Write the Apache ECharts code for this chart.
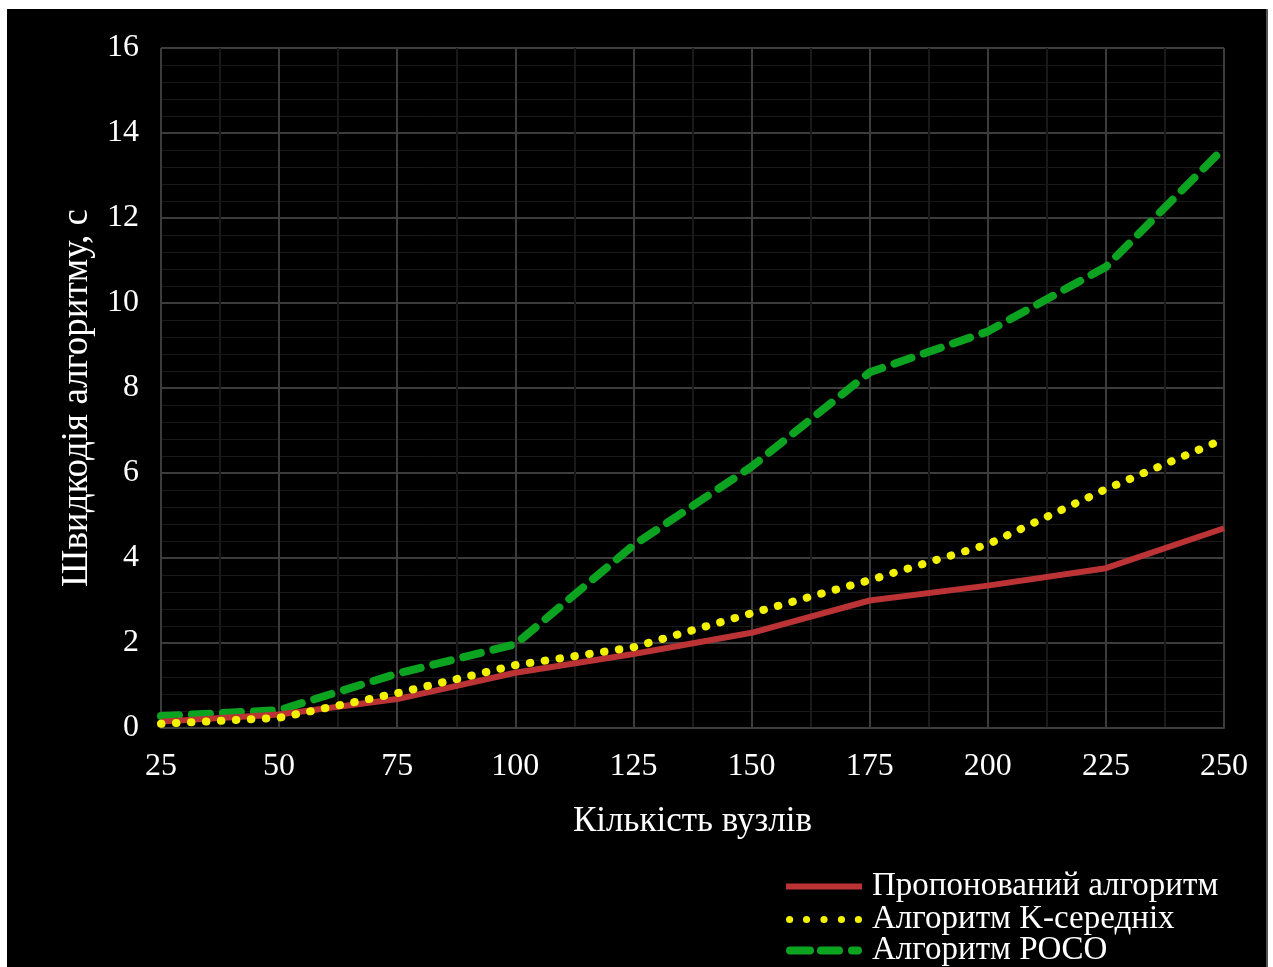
<!DOCTYPE html>
<html>
<head>
<meta charset="utf-8">
<script src="https://cdn.jsdelivr.net/npm/echarts@6/dist/echarts.min.js"></script>
<style>
  html, body { margin: 0; padding: 0; background: #fff; }
  #frame { position: absolute; left: 7px; top: 9px; width: 1259px; height: 958px; background: #000; border-right: 2px solid #555; }
  #chart { position: absolute; left: 0; top: 0; width: 1273px; height: 967px; }
</style>
</head>
<body>
<div id="frame"></div>
<div id="chart"></div>
<script>
// кількість вузлів
const nodes = [25, 50, 75, 100, 125, 150, 175, 200, 225, 250];
// швидкодія, с
const proposed = [0.15, 0.32, 0.68, 1.3, 1.74, 2.24, 3.0, 3.35, 3.76, 4.7];
const kMeans = [0.1, 0.24, 0.82, 1.48, 1.9, 2.7, 3.48, 4.32, 5.62, 6.8];
const poco = [0.28, 0.42, 1.28, 1.97, 4.3, 6.15, 8.37, 9.33, 10.85, 13.65];

const names = ["Пропонований алгоритм", "Алгоритм K-середніх", "Алгоритм POCO"];
const colors = ["#bb3335", "#f2f200", "#0ca321"];

const pairs = (ys) => nodes.map((x, i) => [x, ys[i]]);

// legend icons that look like the line styles
const circle = (cx, r) =>
  `M${cx - r} 4 A${r} ${r} 0 1 0 ${cx + r} 4 A${r} ${r} 0 1 0 ${cx - r} 4 Z`;
const iconSolid = "path://M0 1 L76 1 L76 7 L0 7 Z";
const iconDots = "path://" + [3.5, 20, 37, 54, 70.5].map((c) => circle(c, 3.5)).join(" ");
const iconDash = "path://M4 0 L24 0 A4 4 0 0 1 24 8 L4 8 A4 4 0 0 1 4 0 Z " +
  "M35 0 L53 0 A4 4 0 0 1 53 8 L35 8 A4 4 0 0 1 35 0 Z " +
  "M66 0 L72 0 A4 4 0 0 1 72 8 L66 8 A4 4 0 0 1 66 0 Z";
const icons = [iconSolid, iconDots, iconDash];
const legendTops = [870, 903, 934];

const font = '"Liberation Serif", "DejaVu Serif", serif';
const gridColor = "#3c3c3c";
const minorColor = "#191919";

const chart = echarts.init(document.getElementById("chart"));

// one legend per row so they stack tightly at the bottom
const legends = names.map((n, i) => ({
  orient: "vertical",
  left: 786,
  top: legendTops[i],
  padding: 0,
  itemWidth: 76,
  itemHeight: 8,
  textStyle: { color: "#fff", fontFamily: font, fontSize: 33, lineHeight: 33, padding: [0, 0, 0, 5] },
  data: [{ name: n, icon: icons[i] }],
}));

const option = {
  backgroundColor: "transparent",
  animation: false,
  grid: { left: 161, right: 49, top: 48, bottom: 239 },
  legend: legends,
  xAxis: {
    type: "value",
    min: 25,
    max: 250,
    interval: 25,
    name: "Кількість вузлів",
    nameLocation: "middle",
    nameGap: 76,
    nameTextStyle: { color: "#fff", fontFamily: font, fontSize: 35 },
    axisLine: { lineStyle: { color: gridColor, width: 2 } },
    axisTick: { show: false },
    axisLabel: { color: "#fff", fontFamily: font, fontSize: 32, margin: 23 },
    splitLine: { lineStyle: { color: gridColor, width: 2 } },
    minorTick: { show: false, splitNumber: 2 },
    minorSplitLine: { show: true, lineStyle: { color: minorColor, width: 2 } },
  },
  yAxis: {
    type: "value",
    min: 0,
    max: 16,
    interval: 2,
    name: "Швидкодія алгоритму, с",
    nameLocation: "middle",
    nameGap: 65,
    nameTextStyle: { color: "#fff", fontFamily: font, fontSize: 37, padding: [0, 20, 0, 0] },
    axisLine: { show: false },
    axisTick: { show: false },
    axisLabel: { color: "#fff", fontFamily: font, fontSize: 32, margin: 22 },
    splitLine: { lineStyle: { color: gridColor, width: 2 } },
    minorTick: { show: false, splitNumber: 5 },
    minorSplitLine: { show: true, lineStyle: { color: minorColor, width: 1 } },
  },
  series: [
    {
      name: names[0],
      type: "line",
      data: pairs(proposed),
      showSymbol: false,
      symbol: "none",
      z: 3,
      lineStyle: { color: colors[0], width: 6 },
      itemStyle: { color: colors[0] },
    },
    {
      name: names[1],
      type: "line",
      data: pairs(kMeans),
      showSymbol: false,
      symbol: "none",
      z: 4,
      lineStyle: { color: colors[1], width: 8, type: [0.5, 14.5], cap: "round" },
      itemStyle: { color: colors[1] },
    },
    {
      name: names[2],
      type: "line",
      data: pairs(poco),
      showSymbol: false,
      symbol: "none",
      z: 2,
      lineStyle: { color: colors[2], width: 8, type: [18, 13], cap: "round" },
      itemStyle: { color: colors[2] },
    },
  ],
};

chart.setOption(option);
</script>
</body>
</html>
